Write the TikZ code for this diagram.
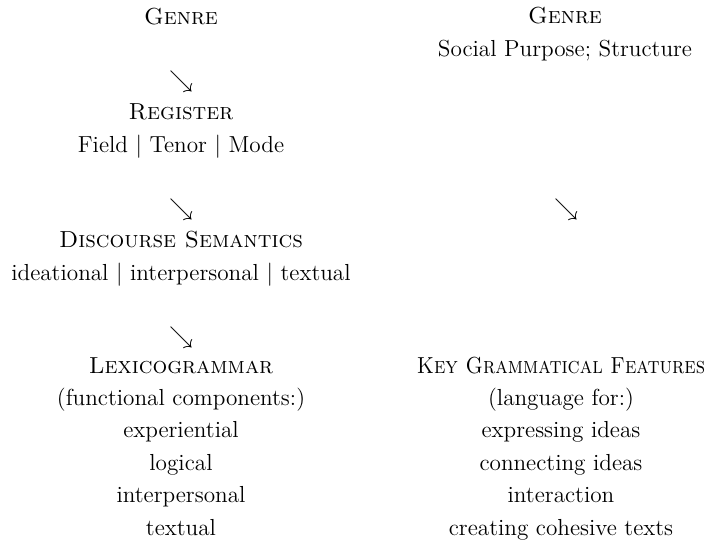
\documentclass[tikz,border=0pt]{standalone}
\usepackage{graphicx}
\begin{document}
\begin{tikzpicture}[x=0.5pt,y=-0.5pt,
  txt/.style={align=center,inner sep=0pt,anchor=base,font=\fontsize{11.6}{16.2}\selectfont},
  arr/.style={inner sep=0pt,font=\fontsize{11.6}{13}\selectfont}]
\useasboundingbox (0,0) rectangle (717,541);
% left column (node positions are at the baseline of each block's last line)
\node[txt] (g1) at (181,24) {\textsc{Genre}};
\node[arr] (a1) at (181,81) {$\searrow$};
\node[txt] (reg) at (181,152) {\textsc{Register}\\Field | Tenor | Mode};
\node[arr] (a2) at (181,209) {$\searrow$};
\node[txt] (ds) at (181,280) {\textsc{Discourse Semantics}\\ideational | interpersonal | textual};
\node[arr] (a3) at (181,337) {$\searrow$};
\node[txt] (lg) at (181,535) {\textsc{Lexicogrammar}\\(functional components:)\\experiential\\logical\\interpersonal\\textual};
% right column
\node[txt] (g2) at (565,56) {\textsc{Genre}\\Social Purpose; Structure};
\node[arr] (a4) at (566,209) {$\searrow$};
\node[txt] (kg) at (561,535) {\scalebox{0.88}[1]{\textsc{Key Grammatical Features}}\\(language for:)\\expressing ideas\\connecting ideas\\interaction\\creating cohesive texts};
\end{tikzpicture}
\end{document}
